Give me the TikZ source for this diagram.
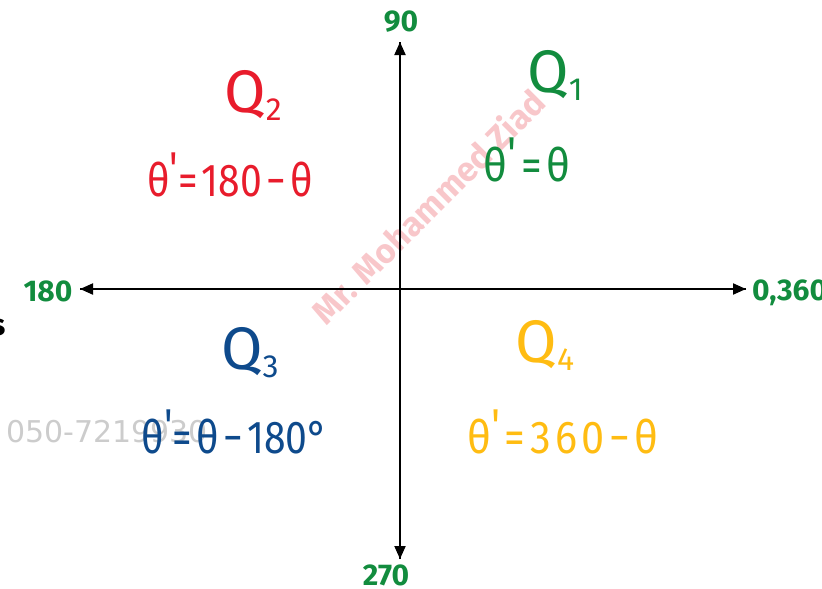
\documentclass[tikz,border=0pt]{standalone}
\usepackage{fontspec}
\setmainfont{Fira Sans}
\newfontfamily\phonefont{DejaVu Sans}
\usetikzlibrary{arrows.meta}
\definecolor{qred}{RGB}{232,28,44}
\definecolor{qgreen}{RGB}{18,140,62}
\definecolor{qblue}{RGB}{14,74,140}
\definecolor{qyellow}{RGB}{255,188,18}
\definecolor{wmpink}{RGB}{245,175,180}
\newcommand{\pr}{\raisebox{12pt}{\textquotesingle}}
\newcommand{\gp}{\hspace{5pt}}
\begin{document}
\begin{tikzpicture}[x=1pt,y=-1pt,
  axis/.style={line width=2pt,-{Triangle[length=13pt,width=11pt]}},
  deg/.style={font=\fontsize{30}{30}\selectfont\bfseries, text=qgreen, inner sep=0pt},
  quad/.style={font=\fontsize{60}{60}\selectfont, inner sep=0pt},
  rule/.style={font=\fontsize{46}{46}\selectfont, inner sep=0pt}]
\useasboundingbox (0,0) rectangle (822,589);
\clip (0,0) rectangle (822,589);
% watermarks
\node[text=gray!40, font=\fontsize{30}{30}\selectfont\phonefont, anchor=west, inner sep=0pt] (phone) at (6,432) {050-7219930};
\node[text=wmpink, opacity=0.7, font=\fontsize{34}{34}\selectfont\bfseries, rotate=45, inner sep=0pt] (wm) at (428,206) {Mr. Mohammed Ziad};
\node[font=\fontsize{30}{30}\selectfont\bfseries, inner sep=0pt] (s) at (-2,328) {s};
% axes
\coordinate (O) at (400,289);
\coordinate (top) at (400,42);
\coordinate (bot) at (400,559);
\coordinate (lft) at (80,289);
\coordinate (rgt) at (746,289);
\draw[axis] (bot) -- (top);
\draw[axis] (top) -- (bot);
\draw[axis] (rgt) -- (lft);
\draw[axis] (lft) -- (rgt);
% degree labels
\node[deg] (d90) at (401,22) {90};
\node[deg] (d270) at (386,575) {270};
\node[deg] (d180) at (48,291) {180};
\node[deg, anchor=west] (d0) at (752,293) {0,360};
% quadrants
\node[quad, text=qred] (q2) at (253,95) {Q\raisebox{-8pt}{\fontsize{32}{32}\selectfont 2}};
\node[quad, text=qgreen] (q1) at (555,75) {Q\raisebox{-8pt}{\fontsize{32}{32}\selectfont 1}};
\node[quad, text=qblue] (q3) at (250,353) {Q\raisebox{-8pt}{\fontsize{32}{32}\selectfont 3}};
\node[quad, text=qyellow] (q4) at (545,345) {Q\raisebox{-8pt}{\fontsize{32}{32}\selectfont 4}};
\node[rule, text=qred] (r2) at (230,175) {\scalebox{0.85}[1]{θ\pr=\gp180\gp−\gp θ}};
\node[rule, text=qgreen] (r1) at (527,160) {\scalebox{0.9}[1]{θ\pr\gp=\gp θ}};
\node[rule, text=qblue] (r3) at (235,432) {\scalebox{0.85}[1]{θ\pr=\gp θ\gp−\gp180°}};
\node[rule, text=qyellow] (r4) at (563,432) {\scalebox{0.9}[1]{θ\pr\gp=\gp3\gp6\gp0\gp−\gp θ}};
\end{tikzpicture}
\end{document}
